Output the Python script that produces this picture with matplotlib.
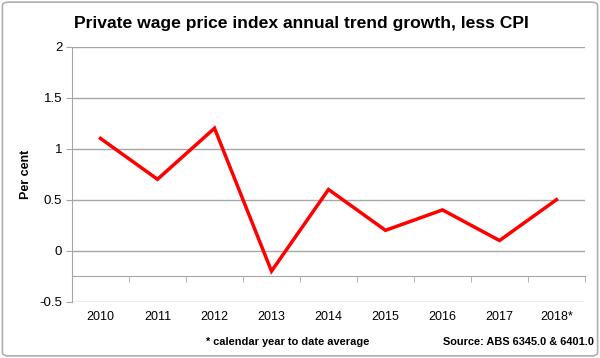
import matplotlib.pyplot as plt
from matplotlib.patches import FancyBboxPatch
import numpy as np

years = ['2010', '2011', '2012', '2013', '2014', '2015', '2016', '2017', '2018*']
growth = [1.1, 0.7, 1.2, -0.2, 0.6, 0.2, 0.4, 0.1, 0.5]

plt.rcParams['font.family'] = ['Liberation Sans', 'DejaVu Sans']
grey = '#a6a6a6'

fig = plt.figure(figsize=(6, 3.58), dpi=100)
ax = fig.add_axes([0.12, 0.157, 0.855, 0.713])

x = np.arange(len(years))
ax.plot(x, growth, color='#ff0000', linewidth=2.5, solid_joinstyle='miter')

ax.set_xlim(-0.5, len(years) - 0.5)
ax.set_ylim(-0.5, 2)
ax.set_yticks(np.arange(-0.5, 2.01, 0.5))
ax.set_yticklabels(['-0.5', '0', '0.5', '1', '1.5', '2'])
ax.yaxis.grid(True, color=grey, linewidth=1)
ax.set_axisbelow(True)

# category axis crosses at -0.25
ax.spines['bottom'].set_position(('data', -0.25))
ax.spines['bottom'].set_color(grey)
ax.spines['left'].set_color(grey)
ax.spines['top'].set_visible(False)
ax.spines['right'].set_visible(False)
ax.set_xticks(x)
ax.set_xticklabels(years)
ax.set_xticks(np.arange(-0.5, len(years), 1.0), minor=True)
ax.tick_params(axis='x', which='major', length=0, pad=25, labelsize=9)
ax.tick_params(axis='x', which='minor', length=4, color=grey, direction='out')
ax.tick_params(axis='y', length=4, color=grey, labelsize=9.5, pad=3)

ax.set_ylabel('Per cent', fontweight='bold', fontsize=9, labelpad=5)

fig.text(0.502, 0.933, 'Private wage price index annual trend growth, less CPI',
         ha='center', va='center', fontsize=12.6, fontweight='bold')
fig.text(0.343, 0.045, '* calendar year to date average', ha='left', va='center',
         fontsize=7.9, fontweight='bold')
fig.text(0.99, 0.045, 'Source: ABS 6345.0 & 6401.0', ha='right', va='center',
         fontsize=7.9, fontweight='bold')

frame = FancyBboxPatch((0.004, 0.006), 0.992, 0.988, boxstyle='round,pad=0,rounding_size=0.01',
                       transform=fig.transFigure, fill=False, edgecolor='#b0b0b0', linewidth=1.2)
fig.patches.append(frame)

fig.savefig('out.png', dpi=100)
